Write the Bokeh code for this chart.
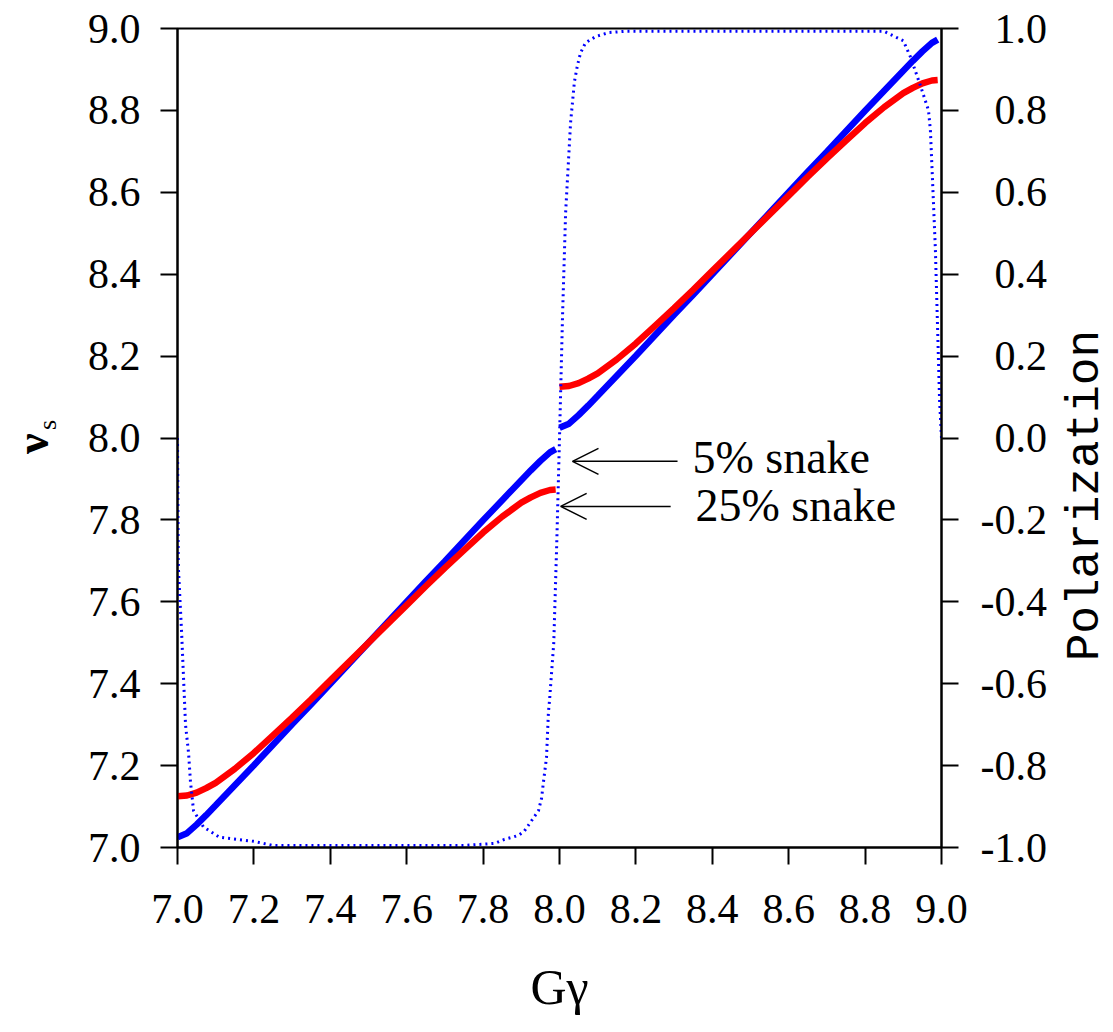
from bokeh.plotting import figure
from bokeh.layouts import row
from bokeh.models import (Range1d, LinearAxis, FixedTicker, Label, Arrow, OpenHead,
                          PrintfTickFormatter, Div)
from bokeh.embed import file_html
from bokeh.resources import INLINE

# ---- data ----
gg_a = [7.00, 7.025, 7.05, 7.075, 7.10, 7.15, 7.20, 7.25, 7.30, 7.35, 7.40, 7.45, 7.50,
        7.55, 7.60, 7.65, 7.70, 7.75, 7.80, 7.85, 7.90, 7.925, 7.95, 7.975, 7.99]
gg_b = [8.00, 8.025, 8.05, 8.075, 8.10, 8.15, 8.20, 8.25, 8.30, 8.35, 8.40, 8.45, 8.50,
        8.55, 8.60, 8.65, 8.70, 8.75, 8.80, 8.85, 8.90, 8.925, 8.95, 8.975, 8.99]

snake5_a = [7.025, 7.035, 7.056, 7.079, 7.103, 7.152, 7.201, 7.251, 7.301, 7.350, 7.400, 7.450, 7.500,
            7.550, 7.600, 7.650, 7.699, 7.749, 7.799, 7.848, 7.897, 7.921, 7.944, 7.965, 7.973]
snake5_b = [8.025, 8.035, 8.056, 8.079, 8.103, 8.152, 8.201, 8.251, 8.301, 8.350, 8.400, 8.450, 8.500,
            8.550, 8.600, 8.650, 8.699, 8.749, 8.799, 8.848, 8.897, 8.921, 8.944, 8.965, 8.973]

snake25_a = [7.125, 7.127, 7.134, 7.145, 7.158, 7.192, 7.231, 7.274, 7.317, 7.362, 7.408, 7.454, 7.500,
             7.546, 7.592, 7.638, 7.683, 7.726, 7.769, 7.808, 7.842, 7.855, 7.866, 7.873, 7.874]
snake25_b = [8.125, 8.127, 8.134, 8.145, 8.158, 8.192, 8.231, 8.274, 8.317, 8.362, 8.408, 8.454, 8.500,
             8.546, 8.592, 8.638, 8.683, 8.726, 8.769, 8.808, 8.842, 8.855, 8.866, 8.873, 8.874]

pol_gg = [7.000, 7.002, 7.011, 7.021, 7.029, 7.034, 7.042, 7.068, 7.11, 7.20, 7.25, 7.75, 7.83,
          7.856, 7.877, 7.893, 7.908, 7.945, 7.953, 7.958, 7.966, 7.971, 7.974, 7.985, 7.993,
          8.000, 8.008, 8.016, 8.024, 8.029, 8.034, 8.039, 8.047, 8.055, 8.068, 8.094, 8.128,
          8.17, 8.85, 8.90, 8.919, 8.945, 8.966, 8.971, 8.976, 8.984, 8.990, 8.995, 9.000]
pol_val = [0.00, -0.31, -0.48, -0.70, -0.77, -0.84, -0.91, -0.95, -0.975, -0.985, -0.995, -0.995, -0.99,
           -0.98, -0.975, -0.97, -0.96, -0.91, -0.88, -0.84, -0.78, -0.67, -0.64, -0.50, -0.25,
           0.00, 0.30, 0.55, 0.685, 0.77, 0.82, 0.87, 0.91, 0.94, 0.965, 0.98, 0.99,
           0.993, 0.993, 0.97, 0.93, 0.86, 0.80, 0.75, 0.64, 0.46, 0.26, 0.09, 0.00]

x_ticks = [7.0, 7.2, 7.4, 7.6, 7.8, 8.0, 8.2, 8.4, 8.6, 8.8, 9.0]
y_ticks = [7.0, 7.2, 7.4, 7.6, 7.8, 8.0, 8.2, 8.4, 8.6, 8.8, 9.0]
pol_ticks = [-1.0, -0.8, -0.6, -0.4, -0.2, 0.0, 0.2, 0.4, 0.6, 0.8, 1.0]
pol_labels = ["-1.0", "-0.8", "-0.6", "-0.4", "-0.2", "0.0", "0.2", "0.4", "0.6", "0.8", "1.0"]

SERIF = "Liberation Serif"
NB = "\u00a0"

p = figure(width=1060, height=1032, x_range=Range1d(7, 9), y_range=Range1d(7, 9),
           output_backend="svg", toolbar_location=None,
           min_border_left=177, min_border_right=119, min_border_top=28, min_border_bottom=185)
p.extra_y_ranges = {"pol": Range1d(-1, 1)}
p.xgrid.visible = False
p.ygrid.visible = False
p.outline_line_color = "black"
p.outline_line_width = 2
p.outline_line_alpha = 1.0
p.background_fill_color = "white"
p.border_fill_color = "white"

xaxis = p.xaxis[0]
yaxis = p.yaxis[0]

right = LinearAxis(y_range_name="pol", ticker=FixedTicker(ticks=pol_ticks))
right.formatter = PrintfTickFormatter(format="%.1f")
right.major_label_overrides = {v: (lab if lab.startswith("-") else "\u2004" + lab)
                               for v, lab in zip(pol_ticks, pol_labels)}
p.add_layout(right, "right")

xaxis.ticker = FixedTicker(ticks=x_ticks)
yaxis.ticker = FixedTicker(ticks=y_ticks)
xaxis.formatter = PrintfTickFormatter(format="%.1f")
yaxis.formatter = PrintfTickFormatter(format="%.1f")

for ax in [xaxis, yaxis, right]:
    ax.axis_line_width = 2
    ax.axis_line_color = "black"
    ax.major_tick_line_width = 2
    ax.major_tick_line_color = "black"
    ax.major_tick_out = 17
    ax.major_tick_in = 0
    ax.minor_tick_line_color = None
    ax.major_label_text_font = SERIF
    ax.major_label_text_font_size = "42px"
    ax.major_label_text_color = "black"
    ax.major_label_standoff = 20
    ax.axis_label_text_font_style = "normal"
    ax.axis_label_text_color = "black"
xaxis.major_label_standoff = 30
right.major_label_standoff = 22

# axis titles
xaxis.axis_label = "G\u03b3"
xaxis.axis_label_text_font = SERIF
xaxis.axis_label_text_font_size = "50px"
xaxis.axis_label_standoff = 33

# subscript "s" on the main left axis, "ν" on an outer label-only axis
yaxis.axis_label = NB * 4 + "s"
yaxis.axis_label_text_font = SERIF
yaxis.axis_label_text_font_size = "26px"
yaxis.axis_label_standoff = 23

nu_axis = LinearAxis(ticker=FixedTicker(ticks=[]), axis_line_color=None,
                     major_tick_line_color=None, minor_tick_line_color=None,
                     major_tick_out=0, major_tick_in=0, major_label_standoff=0,
                     major_label_text_font_size="1px",
                     axis_label="\u03bd" + NB, axis_label_text_font=SERIF,
                     axis_label_text_font_size="46px", axis_label_text_font_style="bold",
                     axis_label_text_color="black", axis_label_standoff=-28)
p.add_layout(nu_axis, "left")

# series
p.line(gg_a, snake5_a, line_color="#0000ff", line_width=6.5)
p.line(gg_b, snake5_b, line_color="#0000ff", line_width=6.5)
p.line(gg_a, snake25_a, line_color="#ff0000", line_width=6.5)
p.line(gg_b, snake25_b, line_color="#ff0000", line_width=6.5)
p.line(pol_gg, pol_val, y_range_name="pol", line_color="#0000ff", line_width=3, line_dash="2 4")

# annotations
p.add_layout(Arrow(end=OpenHead(size=26, line_width=1.5, line_color="black"),
                   x_start=8.309, y_start=7.943, x_end=8.034, y_end=7.943,
                   line_width=1.5, line_color="black"))
p.add_layout(Arrow(end=OpenHead(size=26, line_width=1.5, line_color="black"),
                   x_start=8.291, y_start=7.833, x_end=8.003, y_end=7.833,
                   line_width=1.5, line_color="black"))
p.add_layout(Label(x=8.348, y=7.953, text="5% snake", text_font=SERIF, text_font_size="46px",
                   text_align="left", text_baseline="alphabetic", text_color="black"))
p.add_layout(Label(x=8.356, y=7.836, text="25% snake", text_font=SERIF, text_font_size="46px",
                   text_align="left", text_baseline="alphabetic", text_color="black"))

# right-hand title reading upwards (HTML text beside the plot)
pol_title = Div(
    text=('<div style="writing-mode:vertical-rl;transform:rotate(180deg);'
          "font-family:'Liberation Mono';font-size:46px;line-height:44px;"
          'white-space:nowrap;margin-top:330px;margin-left:4px;color:black;">'
          'Polarization</div>'),
    width=53, height=1032, margin=(0, 0, 0, 0))

layout = row(p, pol_title, spacing=0)
open("out.html", "w").write(file_html(layout, INLINE))
